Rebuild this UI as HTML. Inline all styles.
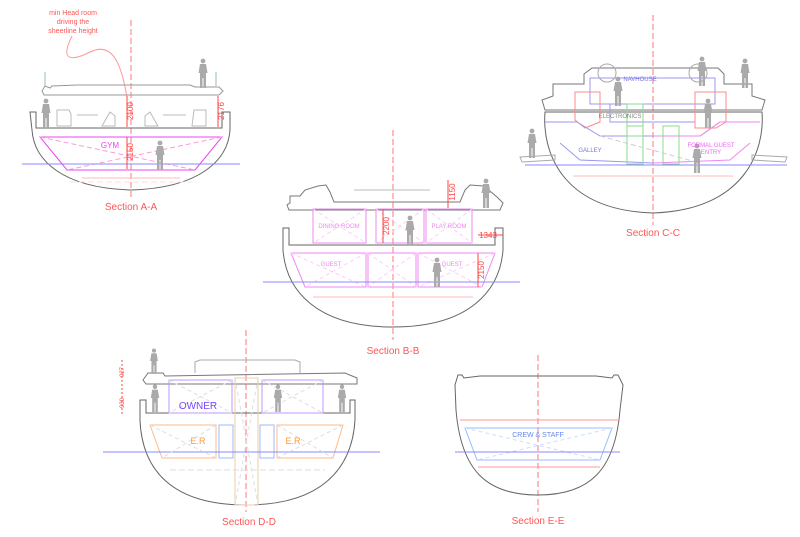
<!DOCTYPE html>
<html><head><meta charset="utf-8"><style>
html,body{margin:0;padding:0;background:#fff;width:800px;height:537px;overflow:hidden}
svg{display:block;font-family:"Liberation Sans",sans-serif}
</style></head><body>
<svg width="800" height="537" viewBox="0 0 800 537" xmlns="http://www.w3.org/2000/svg">
<defs>
<symbol id="p" viewBox="0 0 10 30"><circle cx="5" cy="3" r="2.4" fill="#aaa"/><path d="M2 6h6l1.5 9h-1.5v15h-2.5v-10h-1v10h-2.5v-15h-1.5z" fill="#aaa"/></symbol>
</defs>
<g fill="none" stroke-width="1">
<!-- ===== Section A-A ===== -->
<line x1="131" y1="20" x2="131" y2="200" stroke="#f77" stroke-dasharray="6 3"/>
<path d="M72 36 C 60 60, 70 62, 90 52 C 115 40, 122 70, 127 97" stroke="#f99"/>
<path d="M45 86 L50 88 L52 86 L78 85 L190 85 L195 87 L219 87 L223 91 L219 95 L44 95 L42 91Z" stroke="#999"/>
<line x1="45" y1="72" x2="45" y2="86" stroke="#9bb"/><line x1="216" y1="72" x2="216" y2="86" stroke="#9bb"/>
<path d="M30 112 L36 112 L36 128 L222 128 L222 112 L230 112 L230 130 C 228 160, 200 188, 131 190 C 62 188, 34 160, 32 130 Z" stroke="#666"/>
<path d="M40 137 L222 137 L195 170 L67 170 Z" stroke="#e4e"/>
<path d="M40 137 L195 170 M222 137 L67 170" stroke="#f9d" stroke-dasharray="5 3"/>
<line x1="22" y1="164" x2="240" y2="164" stroke="#88f"/>
<line x1="82" y1="178" x2="180" y2="178" stroke="#fbb"/>
<line x1="70" y1="182" x2="195" y2="182" stroke="#fdd" stroke-dasharray="6 3"/>
<path d="M57 110h12l2 4v12h-14zM110 112l5 4v10h-13zM150 112l-5 4v10h13zM194 110h12v16h-14z" stroke="#bbb"/>
<line x1="77" y1="115" x2="98" y2="115" stroke="#bbb"/><line x1="163" y1="115" x2="186" y2="115" stroke="#bbb"/>
<line x1="127" y1="96" x2="127" y2="127" stroke="#f44"/><line x1="127" y1="137" x2="127" y2="169" stroke="#f44"/>
<line x1="218" y1="96" x2="218" y2="127" stroke="#f44"/>
<!-- ===== Section C-C ===== -->
<line x1="653" y1="15" x2="653" y2="225" stroke="#f77" stroke-dasharray="6 3"/>
<path d="M584 74 L592 68 L718 68 L724 74 L724 84 L740 84 L752 84 L752 96 L765 100 L762 110 L545 110 L542 100 L553 96 L553 84 L584 84Z" stroke="#777"/>
<path d="M545 112 L762 112 C 765 150, 745 210, 653 213 C 560 210, 542 150, 545 112Z" stroke="#666"/>
<path d="M590 78 L715 78 L715 104 L590 104Z" stroke="#99e"/>
<path d="M610 104 L610 122 L695 122 L695 104" stroke="#99e"/>
<path d="M575 92 L600 92 L600 122 L585 128 L575 120Z M695 92 L726 92 L726 122 L716 128 L695 128Z" stroke="#f88"/>
<circle cx="607" cy="73" r="9" stroke="#aaa"/><circle cx="698" cy="73" r="9" stroke="#aaa"/>
<path d="M545 122 L577 122 L600 136 L700 136 L720 122 L760 122" stroke="#99e"/>
<path d="M653 136 L700 136 L720 122 L760 122" stroke="#e8e"/>
<path d="M560 143 L580 160 L653 163" stroke="#99e"/><path d="M653 163 L730 160 L750 143" stroke="#e8e"/>
<path d="M520 157 L555 155 L555 160 L522 162Z M752 155 L787 157 L785 162 L752 160Z" stroke="#aaa"/>
<line x1="525" y1="165" x2="787" y2="165" stroke="#88f"/>
<rect x="627" y="104" width="16" height="32" stroke="#8d8"/>
<rect x="627" y="126" width="16" height="38" stroke="#8d8"/><rect x="663" y="126" width="16" height="38" stroke="#8d8"/>
<line x1="573" y1="176" x2="733" y2="176" stroke="#fbb"/>
<line x1="600" y1="136" x2="700" y2="163" stroke="#ccd" stroke-dasharray="5 3"/>
<!-- ===== Section B-B ===== -->
<line x1="393" y1="130" x2="393" y2="340" stroke="#f77" stroke-dasharray="6 3"/>
<path d="M290 203 L290 196 L300 196 L305 190 L318 186 L326 185 L330 192 L334 202 L460 202 L465 190 L470 185 L484 186 L497 197 L503 203 L500 210 L289 210 L287 205Z" stroke="#777"/>
<line x1="354" y1="190" x2="430" y2="190" stroke="#bbb"/>
<path d="M283 228 L289 228 L289 245 L495 245 L495 228 L503 228 L503 250 C 500 290, 470 327, 393 327 C 316 327, 286 290, 283 250Z" stroke="#666"/>
<rect x="313" y="209" width="53" height="34" stroke="#e8e"/><rect x="376" y="209" width="48" height="34" stroke="#e8e"/><rect x="426" y="209" width="46" height="34" stroke="#e8e"/>
<path d="M291 253 L366 253 L366 287 L305 287Z M368 253 L416 253 L416 287 L368 287Z M418 253 L495 253 L482 287 L418 287Z" stroke="#e8e"/>
<path d="M313 209L366 243M366 209L313 243M376 209L424 243M424 209L376 243M426 209L472 243M472 209L426 243M291 253L366 287M366 253L305 287M368 253L416 287M416 253L368 287M418 253L482 287M495 253L418 287" stroke="#fcf" stroke-dasharray="4 3"/>
<line x1="263" y1="282" x2="520" y2="282" stroke="#88f"/>
<line x1="313" y1="297" x2="473" y2="297" stroke="#fbb"/>
<line x1="448" y1="180" x2="448" y2="208" stroke="#f44"/><line x1="383" y1="209" x2="383" y2="243" stroke="#f44"/>
<line x1="478" y1="235" x2="503" y2="235" stroke="#f44"/><line x1="478" y1="253" x2="478" y2="287" stroke="#f44"/>
<!-- ===== Section D-D ===== -->
<line x1="246" y1="330" x2="246" y2="512" stroke="#f77" stroke-dasharray="6 3"/>
<path d="M195 373 L195 362 L200 360 L295 360 L300 362 L300 373" stroke="#aaa"/>
<path d="M143 380 L148 373 L163 373 L165 376 L345 373 L357 378 L357 384 L146 384Z" stroke="#777"/>
<path d="M140 400 L146 400 L146 413 L350 413 L350 400 L355 400 L355 420 C 352 470, 320 505, 246 505 C 172 505, 142 470, 140 420Z" stroke="#666"/>
<rect x="169" y="380" width="63" height="33" stroke="#b9f"/><rect x="262" y="380" width="61" height="33" stroke="#b9f"/>
<rect x="235" y="378" width="23" height="127" stroke="#eca"/>
<path d="M150 425 L216 425 L216 458 L162 458Z M277 425 L343 425 L333 458 L277 458Z" stroke="#fb8"/>
<rect x="219" y="425" width="14" height="33" stroke="#9bf"/><rect x="260" y="425" width="14" height="33" stroke="#9bf"/>
<line x1="103" y1="452" x2="380" y2="452" stroke="#88f"/>
<path d="M169 380L232 413M232 380L169 413M262 380L323 413M323 380L262 413M235 378L258 505M258 378L235 505M150 425L216 458M216 425L162 458M277 425L333 458M343 425L277 458" stroke="#ddd" stroke-dasharray="4 3"/>
<line x1="122" y1="360" x2="122" y2="415" stroke="#f44" stroke-dasharray="2 2"/>
<line x1="170" y1="470" x2="325" y2="470" stroke="#ddd" stroke-dasharray="6 3"/>
<!-- ===== Section E-E ===== -->
<line x1="538" y1="355" x2="538" y2="512" stroke="#f77" stroke-dasharray="6 3"/>
<path d="M455 385 L458 375 L462 375 L464 378 L480 376 L596 376 L612 378 L614 375 L618 375 L623 385 L620 410 C 615 470, 590 495, 538 495 C 486 495, 461 470, 456 410Z" stroke="#666"/>
<line x1="460" y1="420" x2="620" y2="420" stroke="#f99"/>
<path d="M465 428 L612 428 L600 460 L477 460Z" stroke="#9bf"/>
<path d="M465 428L600 460M612 428L477 460" stroke="#cdf" stroke-dasharray="4 3"/>
<line x1="455" y1="452" x2="620" y2="452" stroke="#88f"/>
<line x1="478" y1="467" x2="600" y2="467" stroke="#f99"/>
</g>
<!-- people -->
<use href="#p" x="198" y="58" width="10" height="30"/><use href="#p" x="41" y="98" width="10" height="30"/><use href="#p" x="155" y="140" width="10" height="30"/>
<use href="#p" x="613" y="76" width="10" height="30"/><use href="#p" x="697" y="56" width="10" height="30"/><use href="#p" x="740" y="58" width="10" height="30"/>
<use href="#p" x="703" y="98" width="10" height="30"/><use href="#p" x="527" y="128" width="10" height="30"/><use href="#p" x="692" y="143" width="10" height="30"/>
<use href="#p" x="481" y="178" width="10" height="30"/><use href="#p" x="405" y="215" width="10" height="30"/><use href="#p" x="432" y="257" width="10" height="30"/>
<use href="#p" x="149" y="348" width="10" height="26" /><use href="#p" x="150" y="384" width="10" height="28"/><use href="#p" x="273" y="384" width="10" height="28"/><use href="#p" x="337" y="384" width="10" height="28"/>
<!-- text -->
<g fill="#f55" font-size="7" text-anchor="middle">
<text x="73" y="15">min Head room</text><text x="73" y="24">driving the</text><text x="73" y="33">sheerline height</text>
</g>
<g fill="#f44" font-size="8" text-anchor="middle">
<text transform="translate(133,111) rotate(-90)">2100</text>
<text transform="translate(133,152) rotate(-90)">2150</text>
<text transform="translate(224,111) rotate(-90)">2176</text>
<text transform="translate(455,192) rotate(-90)">1150</text>
<text transform="translate(389,226) rotate(-90)">2200</text>
<text transform="translate(484,270) rotate(-90)">2150</text>
<text x="488" y="238">1343</text>
<text transform="translate(124,372) rotate(-90)" font-size="6">927</text>
<text transform="translate(124,403) rotate(-90)" font-size="6">930</text>
</g>
<g fill="#f55" font-size="10" text-anchor="middle">
<text x="131" y="210">Section A-A</text><text x="653" y="236">Section C-C</text><text x="393" y="354">Section B-B</text>
<text x="249" y="525">Section D-D</text><text x="538" y="524">Section E-E</text>
</g>
<g font-size="6" text-anchor="middle">
<text x="640" y="81" fill="#77d">NAVHOUSE</text><text x="620" y="118" fill="#888">ELECTRONICS</text>
<text x="590" y="152" fill="#77d">GALLEY</text><text x="711" y="147" fill="#e6e">FORMAL GUEST</text><text x="711" y="154" fill="#e6e">ENTRY</text>
<text x="339" y="228" fill="#e8e">DINING ROOM</text><text x="449" y="228" fill="#e8e">PLAY ROOM</text>
<text x="331" y="266" fill="#e8e">GUEST</text><text x="452" y="266" fill="#e8e">GUEST</text>
</g>
<text x="110" y="148" fill="#e4e" font-size="8" text-anchor="middle">GYM</text>
<text x="198" y="409" fill="#74f" font-size="10" text-anchor="middle">OWNER</text>
<text x="198" y="444" fill="#f93" font-size="9" text-anchor="middle">E.R</text>
<text x="293" y="444" fill="#f93" font-size="9" text-anchor="middle">E.R</text>
<text x="538" y="437" fill="#68e" font-size="7" text-anchor="middle">CREW &amp; STAFF</text>
</svg>
</body></html>
